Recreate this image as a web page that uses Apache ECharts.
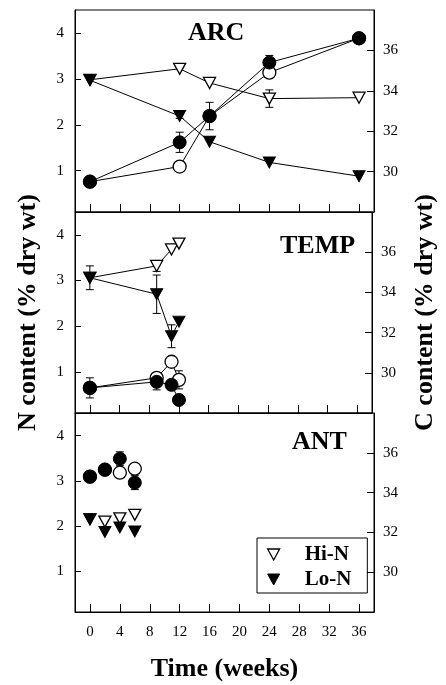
<!DOCTYPE html>
<html>
<head>
<meta charset="utf-8">
<script src="https://cdn.jsdelivr.net/npm/echarts@6/dist/echarts.min.js"></script>
<style>
  html, body { margin: 0; padding: 0; background: #fff; }
  #chart { width: 446px; height: 685px; }
</style>
</head>
<body>
<div id="chart"></div>
<script>
// tick labels
const xTicks = [0, 4, 8, 12, 16, 20, 24, 28, 32, 36];
const nTicks = [1, 2, 3, 4];
const cTicks = [30, 32, 34, 36];
const panelNames = ['ARC', 'TEMP', 'ANT'];

// ARC
const weeksArc = [0, 12, 16, 24, 36];
const arcHiN_N = [2.98, 3.22, 2.91, 2.57, 2.59];
const arcLoN_N = [2.97, 2.19, 1.63, 1.18, 0.88];
const arcHiN_C = [29.5, 30.25, 32.75, 34.9, 36.6];
const arcLoN_C = [29.5, 31.45, 32.75, 35.4, 36.6];
const arcErrN = [[12, 2.19, 0.05], [24, 2.57, 0.19]];
const arcErrC = [[12, 31.45, 0.5], [16, 32.75, 0.68], [24, 35.4, 0.35]];

// TEMP
const weeksTemp = [0, 9, 11, 12];
const tempHiN_N = [3.06, 3.32, 3.68, 3.81];
const tempLoN_N = [3.06, 2.7, 1.78, 2.1];
const tempHiN_C = [29.25, 29.75, 30.55, 29.65];
const tempLoN_C = [29.25, 29.55, 29.4, 28.65];
const tempErrN = [[0, 3.06, 0.26], [9, 3.32, 0.12], [9, 2.7, 0.42], [11, 1.78, 0.25]];
const tempErrC = [[0, 29.25, 0.5], [9, 29.55, 0.4], [12, 29.65, 0.45]];

// ANT
const weeksAnt = [0, 2, 4, 6];
const antHiN_N = [2.15, 2.1, 2.17, 2.25];
const antLoN_N = [2.15, 1.87, 1.97, 1.88];
const antHiN_C = [34.8, 35.15, 35.0, 35.2];
const antLoN_C = [34.8, 35.15, 35.7, 34.5];
const antErrN = [];
const antErrC = [[4, 35.7, 0.35], [6, 34.5, 0.35]];

const font = 'Liberation Serif';
const zip = (xs, ys) => xs.map((x, i) => [x, ys[i]]);

const panels = [
  { weeks: weeksArc, hiN: arcHiN_N, loN: arcLoN_N, hiC: arcHiN_C, loC: arcLoN_C, errN: arcErrN, errC: arcErrC, lines: true },
  { weeks: weeksTemp, hiN: tempHiN_N, loN: tempLoN_N, hiC: tempHiN_C, loC: tempLoN_C, errN: tempErrN, errC: tempErrC, lines: true },
  { weeks: weeksAnt, hiN: antHiN_N, loN: antLoN_N, hiC: antHiN_C, loC: antLoN_C, errN: antErrN, errC: antErrC, lines: false }
];

const gridTops = [10, 212, 413];
const gridHeights = [202, 201, 199];

function errRender(params, api) {
  const x = api.value(0), y = api.value(1), e = api.value(2);
  const top = api.coord([x, y + e]);
  const bot = api.coord([x, y - e]);
  const w = 4;
  const st = { stroke: '#000', lineWidth: 1 };
  return {
    type: 'group',
    children: [
      { type: 'line', shape: { x1: top[0], y1: top[1], x2: bot[0], y2: bot[1] }, style: st },
      { type: 'line', shape: { x1: top[0] - w, y1: top[1], x2: top[0] + w, y2: top[1] }, style: st },
      { type: 'line', shape: { x1: bot[0] - w, y1: bot[1], x2: bot[0] + w, y2: bot[1] }, style: st }
    ]
  };
}

const grids = [], xAxes = [], yAxes = [], series = [];
const openStyle = { color: '#fff', borderColor: '#000', borderWidth: 1.3, opacity: 1 };
const fillStyle = { color: '#000', borderColor: '#000', borderWidth: 1, opacity: 1 };

panels.forEach((p, i) => {
  grids.push({ left: 75, right: 72, top: gridTops[i], height: gridHeights[i],
    show: true, borderColor: '#000', borderWidth: 1, backgroundColor: 'transparent' });
  xAxes.push({
    gridIndex: i, type: 'value', min: -2, max: 38,
    name: i === 2 ? 'Time (weeks)' : '', nameLocation: 'middle', nameGap: 44,
    nameTextStyle: { fontFamily: font, fontWeight: 'bold', fontSize: 26, color: '#000' },
    axisLine: { show: true, onZero: false, lineStyle: { color: '#000', width: 1 } },
    axisTick: { inside: true, length: 8, customValues: xTicks, lineStyle: { color: '#000' } },
    axisLabel: { show: i === 2, customValues: xTicks, margin: 13, fontFamily: font, fontSize: 15, color: '#000' },
    splitLine: { show: false }
  });
  yAxes.push({
    gridIndex: i, type: 'value', position: 'left', min: 0.1, max: 4.5,
    name: i === 1 ? 'N content (% dry wt)' : '', nameLocation: 'middle', nameGap: 34, nameRotate: 90,
    nameTextStyle: { fontFamily: font, fontWeight: 'bold', fontSize: 26, color: '#000' },
    axisLine: { show: true, onZero: false, lineStyle: { color: '#000', width: 1 } },
    axisTick: { inside: true, length: 6, customValues: nTicks, lineStyle: { color: '#000' } },
    axisLabel: { customValues: nTicks, margin: 11, fontFamily: font, fontSize: 15, color: '#000' },
    splitLine: { show: false }
  });
  yAxes.push({
    gridIndex: i, type: 'value', position: 'right', min: 28, max: 38,
    name: i === 1 ? 'C content (% dry wt)' : '', nameLocation: 'middle', nameGap: 40, nameRotate: 90,
    nameTextStyle: { fontFamily: font, fontWeight: 'bold', fontSize: 26, color: '#000' },
    axisLine: { show: true, onZero: false, lineStyle: { color: '#000', width: 1 } },
    axisTick: { inside: true, length: 7, customValues: cTicks, lineStyle: { color: '#000' } },
    axisLabel: { customValues: cTicks, margin: 9, fontFamily: font, fontSize: 15, color: '#000' },
    splitLine: { show: false }
  });

  const yl = 2 * i, yr = 2 * i + 1;
  series.push({ type: 'custom', xAxisIndex: i, yAxisIndex: yl, renderItem: errRender, data: p.errN, z: 1, encode: { x: 0, y: 1 }, silent: true });
  series.push({ type: 'custom', xAxisIndex: i, yAxisIndex: yr, renderItem: errRender, data: p.errC, z: 1, encode: { x: 0, y: 1 }, silent: true });

  const base = p.lines
    ? { type: 'line', lineStyle: { color: '#000', width: 1 } }
    : { type: 'scatter' };

  series.push(Object.assign({}, base, {
    name: 'Hi-N', xAxisIndex: i, yAxisIndex: yl, data: zip(p.weeks, p.hiN),
    symbol: 'triangle', symbolRotate: 180, symbolSize: [12, 11], itemStyle: openStyle, z: 2
  }));
  series.push(Object.assign({}, base, {
    name: 'Lo-N', xAxisIndex: i, yAxisIndex: yl, data: zip(p.weeks, p.loN),
    symbol: 'triangle', symbolRotate: 180, symbolSize: [12, 11], itemStyle: fillStyle, z: 2
  }));
  series.push(Object.assign({}, base, {
    name: 'Hi-N C', xAxisIndex: i, yAxisIndex: yr, data: zip(p.weeks, p.hiC),
    symbol: 'circle', symbolSize: 13, itemStyle: openStyle, z: 3
  }));
  series.push(Object.assign({}, base, {
    name: 'Lo-N C', xAxisIndex: i, yAxisIndex: yr, data: zip(p.weeks, p.loC),
    symbol: 'circle', symbolSize: 13, itemStyle: fillStyle, z: 3
  }));
});

const titleStyle = { fontFamily: font, fontWeight: 'bold', fontSize: 26, color: '#000' };
const downTri = 'path://M0,0 L12,0 L6,11 Z';

const chart = echarts.init(document.getElementById('chart'), null, { renderer: 'canvas' });
chart.setOption({
  animation: false,
  backgroundColor: '#fff',
  title: [
    { text: panelNames[0], left: 188, top: 20, padding: 0, textStyle: titleStyle },
    { text: panelNames[1], left: 280, top: 233, padding: 0, textStyle: titleStyle },
    { text: panelNames[2], left: 292, top: 429, padding: 0, textStyle: titleStyle }
  ],
  legend: {
    orient: 'vertical', left: 257, top: 538,
    borderColor: '#000', borderWidth: 1, padding: [6, 16, 3, 10],
    itemWidth: 12, itemHeight: 11, itemGap: 4,
    selectedMode: false,
    formatter: '{a|{name}}',
    textStyle: { rich: { a: { fontFamily: font, fontWeight: 'bold', fontSize: 21, color: '#000', padding: [0, 0, 0, 20], lineHeight: 21 } } },
    data: [
      { name: 'Hi-N', icon: downTri, itemStyle: { color: '#fff', borderColor: '#000', borderWidth: 1.3 } },
      { name: 'Lo-N', icon: downTri, itemStyle: { color: '#000', borderColor: '#000', borderWidth: 1 } }
    ]
  },
  grid: grids,
  xAxis: xAxes,
  yAxis: yAxes,
  series: series
});
</script>
</body>
</html>
